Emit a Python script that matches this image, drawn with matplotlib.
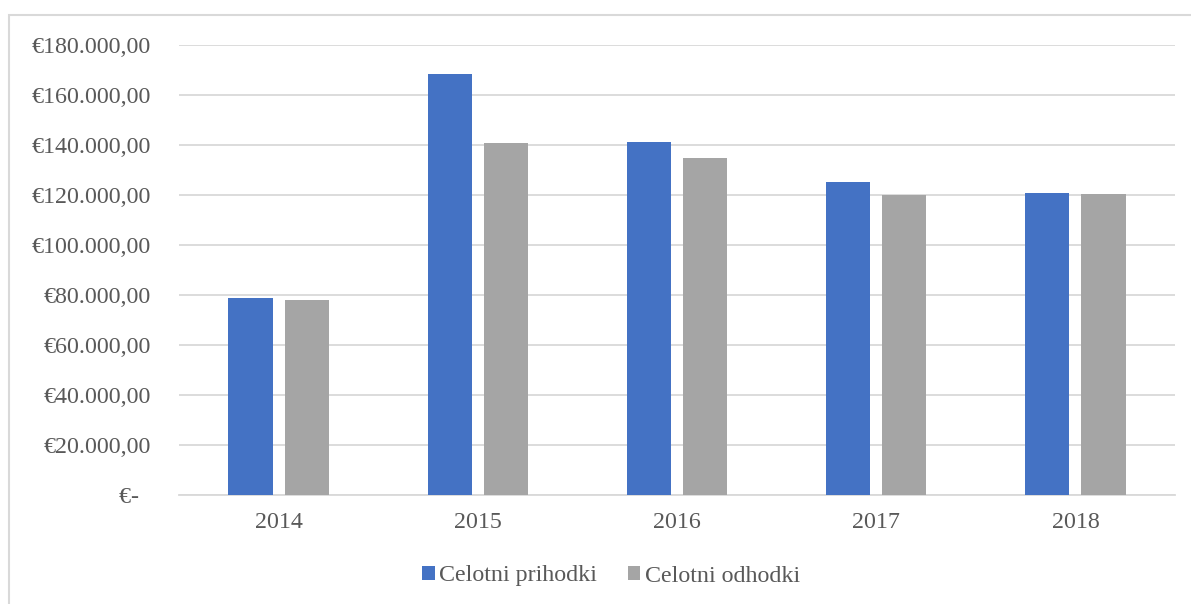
import matplotlib.pyplot as plt
from matplotlib.patches import Rectangle
import numpy as np

plt.rcParams['font.family'] = ['Liberation Serif', 'DejaVu Serif']

years = ["2014", "2015", "2016", "2017", "2018"]
prihodki = [78800, 168400, 141200, 125100, 120900]
odhodki = [77900, 140800, 134900, 120000, 120400]
y_ticks = [0, 20000, 40000, 60000, 80000, 100000, 120000, 140000, 160000, 180000]


def eur(v):
    if v == 0:
        return "€-  "
    s = f"{v:,.2f}".replace(",", "X").replace(".", ",").replace("X", ".")
    return "€" + s


fig = plt.figure(figsize=(11.91, 6.04), dpi=100)
fig.patches.append(Rectangle((9 / 1191, -0.1), 1.2, 1 - 15 / 604 + 0.1,
                             transform=fig.transFigure, fill=False,
                             edgecolor='#d9d9d9', linewidth=1.5))
ax = fig.add_axes([179 / 1191, 1 - 495 / 604, 996 / 1191, 450 / 604])

x = np.arange(len(years))
w = 0.222
off = 0.141
ax.bar(x - off, prihodki, w, color='#4472c4', label='Celotni prihodki', zorder=3)
ax.bar(x + off, odhodki, w, color='#a5a5a5', label='Celotni odhodki', zorder=3)

ax.set_xlim(-0.5, len(years) - 0.5)
ax.set_ylim(0, 180000)
ax.set_yticks(y_ticks)
ax.set_yticklabels([eur(v) for v in y_ticks])
ax.set_xticks(x)
ax.set_xticklabels(years)
ax.grid(axis='y', color='#d9d9d9', linewidth=1.3, zorder=0)
for s in ['top', 'right', 'left']:
    ax.spines[s].set_visible(False)
ax.spines['bottom'].set_color('#d9d9d9')
ax.spines['bottom'].set_linewidth(1.3)
ax.tick_params(axis='both', length=0, labelsize=17.3, labelcolor='#595959')
ax.tick_params(axis='y', pad=20)
ax.tick_params(axis='x', pad=12)

leg = ax.legend(loc='center', bbox_to_anchor=(611 / 1191, 1 - 576 / 604),
                bbox_transform=fig.transFigure, ncol=2, frameon=False,
                fontsize=17.3, handlelength=0.52, handleheight=0.52,
                handletextpad=0.17, columnspacing=1.3)
for t in leg.get_texts():
    t.set_color('#595959')

fig.savefig('out.png', dpi=100)
